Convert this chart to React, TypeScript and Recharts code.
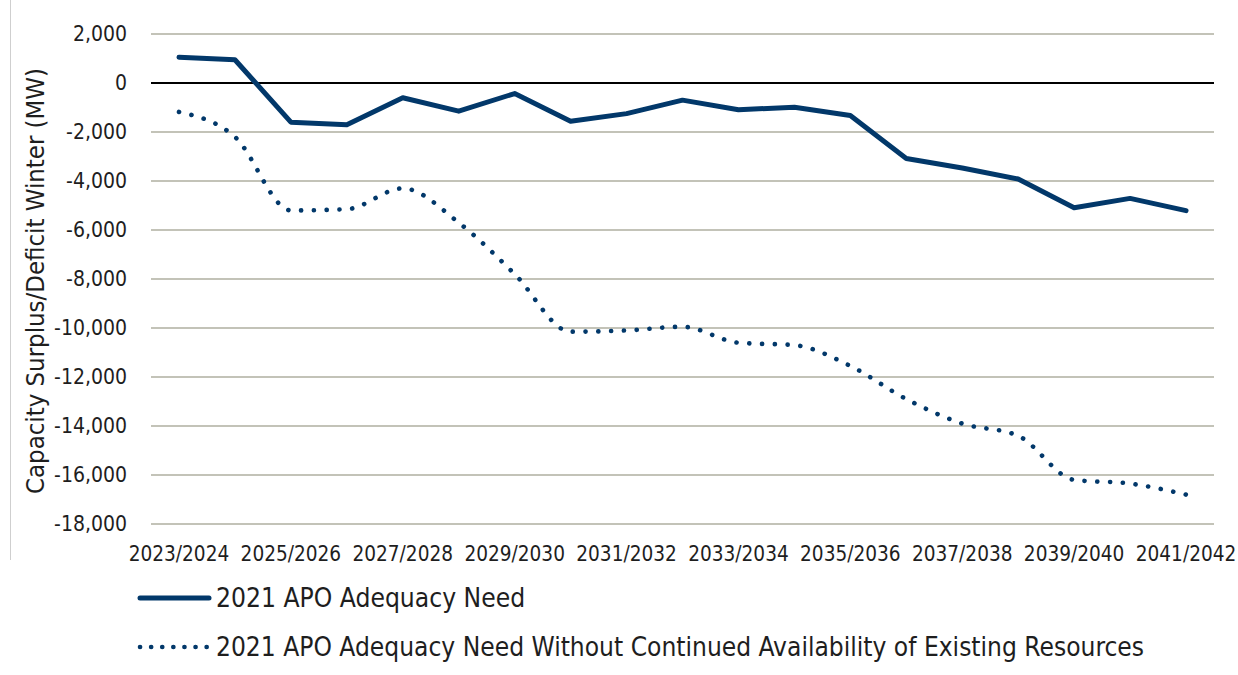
import React from 'react';
import { LineChart, Line, XAxis, YAxis, CartesianGrid, ReferenceLine } from 'recharts';

const periods = [
  '2023/2024', '2024/2025', '2025/2026', '2026/2027', '2027/2028', '2028/2029', '2029/2030',
  '2030/2031', '2031/2032', '2032/2033', '2033/2034', '2034/2035', '2035/2036', '2036/2037',
  '2037/2038', '2038/2039', '2039/2040', '2040/2041', '2041/2042',
];

const adequacyNeed = [
  1050, 950, -1600, -1700, -600, -1150, -430, -1560, -1250, -700,
  -1090, -990, -1330, -3080, -3470, -3920, -5090, -4710, -5210,
];

const withoutExisting = [
  -1180, -2200, -5200, -5150, -4300, -5700, -7800, -10150, -10100, -9950,
  -10600, -10700, -11550, -12900, -13900, -14400, -16200, -16350, -16800,
];

const yTicks = [2000, 0, -2000, -4000, -6000, -8000, -10000, -12000, -14000, -16000, -18000];

const seriesNames = [
  '2021 APO Adequacy Need',
  '2021 APO Adequacy Need Without Continued Availability of Existing Resources',
];

const yTitle = 'Capacity Surplus/Deficit Winter (MW)';

const data = periods.map((p, i) => ({
  period: p,
  need: adequacyNeed[i],
  without: withoutExisting[i],
}));

const NAVY = '#02386a';
const FONT = '"DejaVu Sans Condensed", "DejaVu Sans", sans-serif';
const TEXT = '#1e1e1e';

const fmt = (v: number) => v.toLocaleString('en-US');

const YTitle = (props: any) => {
  const vb = props.viewBox || {};
  const cx = (vb.x || 0) + 44;
  const cy = (vb.y || 0) + (vb.height || 0) / 2 + 2;
  return (
    <text
      x={cx}
      y={cy}
      transform={`rotate(-90, ${cx}, ${cy})`}
      textAnchor="middle"
      fontFamily={FONT}
      fontSize={25.5}
      fill={TEXT}
    >
      {yTitle}
    </text>
  );
};

export default function App() {
  return (
    <div style={{ position: 'absolute', left: 0, top: 0, width: 1238, height: 675, background: '#fff' }}>
      <div style={{ position: 'absolute', left: 10, top: 0, width: 1, height: 560, background: '#cfcfcf' }} />
      <LineChart width={1238} height={675} data={data} margin={{ top: 34, right: 24, bottom: 121, left: 0 }}>
        <CartesianGrid vertical={false} stroke="#c3c3b8" strokeWidth={2} />
        <XAxis
          dataKey="period"
          scale="band"
          interval={1}
          tickLine={false}
          axisLine={false}
          tickSize={0}
          tickMargin={22}
          height={30}
          tick={{ fontFamily: FONT, fontSize: 20.6, fill: TEXT }}
        />
        <YAxis
          type="number"
          domain={[-18000, 2000]}
          ticks={yTicks}
          interval={0}
          width={151}
          tickLine={false}
          axisLine={false}
          tickSize={0}
          tickMargin={24}
          tickFormatter={fmt}
          tick={{ fontFamily: FONT, fontSize: 21, fill: TEXT }}
          label={<YTitle />}
        />
        <ReferenceLine y={0} stroke="#000" strokeWidth={2} />
        <Line
          dataKey="need"
          name={seriesNames[0]}
          type="linear"
          stroke={NAVY}
          strokeWidth={5}
          strokeLinejoin="round"
          strokeLinecap="round"
          dot={false}
          activeDot={false}
          isAnimationActive={false}
        />
        <Line
          dataKey="without"
          name={seriesNames[1]}
          type="monotone"
          stroke={NAVY}
          strokeWidth={4.6}
          strokeLinecap="round"
          strokeDasharray="0.1 12.7"
          dot={false}
          activeDot={false}
          isAnimationActive={false}
        />
      </LineChart>
      <svg width={1238} height={675} style={{ position: 'absolute', left: 0, top: 0, pointerEvents: 'none' }}>
        <line x1={140} x2={209} y1={598} y2={598} stroke={NAVY} strokeWidth={5} strokeLinecap="round" />
        <text x={216} y={607} fontFamily={FONT} fontSize={26.2} fill={TEXT}>
          {seriesNames[0]}
        </text>
        <line
          x1={140}
          x2={207}
          y1={647}
          y2={647}
          stroke={NAVY}
          strokeWidth={4.6}
          strokeLinecap="round"
          strokeDasharray="0.1 11"
        />
        <text x={216} y={656} fontFamily={FONT} fontSize={26.1} fill={TEXT}>
          {seriesNames[1]}
        </text>
      </svg>
    </div>
  );
}
